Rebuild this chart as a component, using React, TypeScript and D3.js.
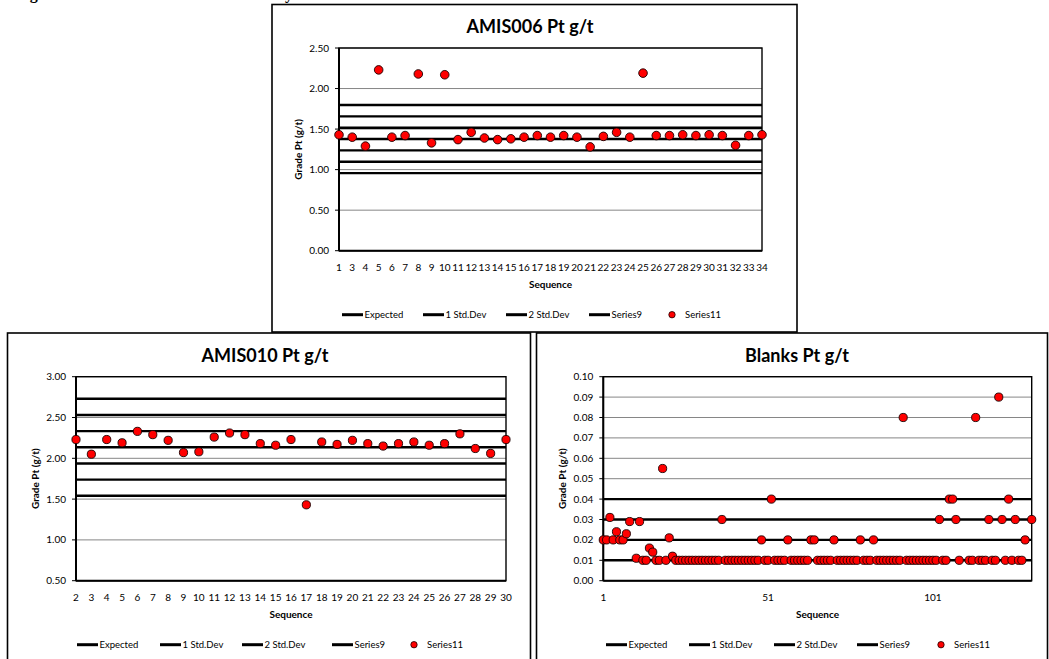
import React from "react";
import * as d3 from "d3";

const FONT = "Lato, 'Open Sans', 'DejaVu Sans', sans-serif";

// ---------- Data ----------
const amis006Categories = ["1","3","4","5","6","7","8","9","10","11","12","13","14","15","16","17","18","19","20","21","22","23","24","25","26","27","28","29","30","31","32","33","34"];
const amis006Values = [1.43,1.40,1.29,2.23,1.40,1.42,2.18,1.33,2.17,1.37,1.46,1.39,1.37,1.38,1.40,1.42,1.40,1.42,1.40,1.28,1.41,1.46,1.40,2.19,1.42,1.42,1.43,1.42,1.43,1.42,1.30,1.42,1.43];
const amis006RefLines = [1.377, 1.237, 1.517, 1.097, 1.657, 0.957, 1.797];
const amis006YTicks = [0, 0.5, 1.0, 1.5, 2.0, 2.5];

const amis010Categories = ["2","3","4","5","6","7","8","9","10","11","12","13","14","15","16","17","18","19","20","21","22","23","24","25","26","27","28","29","30"];
const amis010Values = [2.23,2.05,2.23,2.19,2.33,2.29,2.22,2.07,2.08,2.26,2.31,2.29,2.18,2.16,2.23,1.43,2.20,2.17,2.22,2.18,2.15,2.18,2.20,2.16,2.18,2.30,2.12,2.06,2.23];
const amis010RefLines = [2.135, 1.937, 2.333, 1.739, 2.531, 1.541, 2.729];
const amis010YTicks = [0.5, 1.0, 1.5, 2.0, 2.5, 3.0];

const blanksValues: (number | null)[] = [
  0.02,0.02,0.031,0.02,0.024,0.02,0.02,0.023,0.029,null,
  0.011,0.029,0.01,0.01,0.016,0.014,0.01,0.01,0.055,0.01,
  0.021,0.012,0.01,0.01,0.01,0.01,0.01,0.01,0.01,0.01,
  0.01,0.01,0.01,0.01,0.01,0.01,0.03,0.01,0.01,0.01,
  0.01,0.01,0.01,0.01,0.01,0.01,0.01,0.01,0.02,0.01,
  0.01,0.04,0.01,0.01,0.01,0.01,0.02,0.01,0.01,0.01,
  0.01,0.01,0.01,0.02,0.02,0.01,0.01,0.01,0.01,0.01,
  0.02,0.01,0.01,0.01,0.01,0.01,0.01,0.01,0.02,0.01,
  0.01,0.01,0.02,0.01,0.01,0.01,0.01,0.01,0.01,0.01,
  0.01,0.08,0.01,0.01,0.01,0.01,0.01,0.01,0.01,0.01,
  0.01,0.01,0.03,0.01,0.01,0.04,0.04,0.03,0.01,null,
  null,0.01,0.01,0.08,0.01,0.01,0.01,0.03,0.01,0.01,
  0.09,0.03,0.01,0.04,0.01,0.03,0.01,0.01,0.02,null,
  0.03
];
const blanksRefLines = [0.01, 0.02, 0.03, 0.04];
const blanksYTicks = [0, 0.01, 0.02, 0.03, 0.04, 0.05, 0.06, 0.07, 0.08, 0.09, 0.10];
const blanksXTicks = [1, 51, 101];

const legendLabels = ["Expected", "1 Std.Dev", "2 Std.Dev", "Series9", "Series11"];

type Rect = { x0: number; y0: number; x1: number; y1: number };

type PanelProps = {
  box: Rect;
  plot: Rect;
  title: string;
  titleX: number;
  yDomain: [number, number];
  yTicks: number[];
  xPos: (i: number) => number;
  xTicks: { label: string; x: number }[];
  values: (number | null)[];
  refLines: number[];
  legendX: number[];
  legendLineLen: number;
  r: number;
};

function Panel(p: PanelProps) {
  const y = d3.scaleLinear().domain(p.yDomain).range([p.plot.y1, p.plot.y0]);
  const { plot, box } = p;
  const legendY = plot.y1 + 64;
  return (
    <g>
      <rect x={box.x0} y={box.y0} width={box.x1 - box.x0} height={box.y1 - box.y0} fill="#fff" stroke="#000" strokeWidth={1.6} />
      <text x={p.titleX} y={plot.y0 - 15} textAnchor="middle" fontFamily={FONT} fontWeight="bold" fontSize={18} fill="#000">{p.title}</text>
      {p.yTicks.map((t, i) => (
        <line key={"g" + i} x1={plot.x0} x2={plot.x1} y1={y(t)} y2={y(t)} stroke="#868686" strokeWidth={1} />
      ))}
      <rect x={plot.x0} y={plot.y0} width={plot.x1 - plot.x0} height={plot.y1 - plot.y0} fill="none" stroke="#000" strokeWidth={1.4} />
      {p.refLines.map((v, i) => (
        <line key={"r" + i} x1={plot.x0} x2={plot.x1} y1={y(v)} y2={y(v)} stroke="#000" strokeWidth={2.4} />
      ))}
      <line x1={plot.x0} x2={plot.x0} y1={plot.y0} y2={plot.y1} stroke="#000" strokeWidth={2} />
      <line x1={plot.x0} x2={plot.x1} y1={plot.y1} y2={plot.y1} stroke="#000" strokeWidth={2} />
      {p.yTicks.map((t, i) => (
        <g key={"t" + i}>
          <line x1={plot.x0 - 4} x2={plot.x0} y1={y(t)} y2={y(t)} stroke="#000" strokeWidth={1} />
          <text x={plot.x0 - 10} y={y(t)} dy="0.35em" textAnchor="end" fontFamily={FONT} fontSize={10} fill="#000">{t.toFixed(2)}</text>
        </g>
      ))}
      {p.xTicks.map((t, i) => (
        <text key={"x" + i} x={t.x} y={plot.y1 + 20.5} textAnchor="middle" fontFamily={FONT} fontSize={10} fill="#000">{t.label}</text>
      ))}
      <text x={(plot.x0 + plot.x1) / 2} y={plot.y1 + 37} textAnchor="middle" fontFamily={FONT} fontWeight="bold" fontSize={10} fill="#000">Sequence</text>
      <text transform={`translate(${plot.x0 - 41},${(plot.y0 + plot.y1) / 2}) rotate(-90)`} textAnchor="middle" dominantBaseline="central" fontFamily={FONT} fontWeight="bold" fontSize={10} fill="#000">Grade Pt (g/t)</text>
      {p.values.map((v, i) =>
        v == null ? null : (
          <circle key={"p" + i} cx={p.xPos(i)} cy={y(v)} r={p.r} fill="#ff0000" stroke="#1a0000" strokeWidth={0.9} />
        )
      )}
      {legendLabels.map((lab, i) => {
        const lx = p.legendX[i];
        if (i < 4) {
          return (
            <g key={"l" + i}>
              <line x1={lx} x2={lx + p.legendLineLen} y1={legendY} y2={legendY} stroke="#000" strokeWidth={3} />
              <text x={lx + p.legendLineLen + 1.5} y={legendY} dy="0.35em" fontFamily={FONT} fontSize={9.5} fill="#000">{lab}</text>
            </g>
          );
        }
        return (
          <g key={"l" + i}>
            <circle cx={lx} cy={legendY} r={3.2} fill="#ff0000" stroke="#1a0000" strokeWidth={0.8} />
            <text x={lx + 13} y={legendY} dy="0.35em" fontFamily={FONT} fontSize={9.5} fill="#000">{lab}</text>
          </g>
        );
      })}
    </g>
  );
}

export default function App() {
  const topPlot = { x0: 339, y0: 48, x1: 762, y1: 250.7 };
  const xTop = d3.scalePoint<string>().domain(amis006Categories).range([topPlot.x0, topPlot.x1]).padding(0);
  const blPlot = { x0: 76, y0: 376.7, x1: 506, y1: 580.7 };
  const xBl = d3.scalePoint<string>().domain(amis010Categories).range([blPlot.x0, blPlot.x1]).padding(0);
  const brPlot = { x0: 603.3, y0: 376.7, x1: 1031.7, y1: 580.7 };
  const xBr = d3.scaleLinear().domain([1, blanksValues.length]).range([brPlot.x0, brPlot.x1]);

  return (
    <svg width={1049} height={659} style={{ position: "absolute", left: 0, top: 0, background: "#fff" }}>
      <text x={17} y={-0.8} fontFamily="'Liberation Serif', 'DejaVu Serif', serif" fontWeight="bold" fontSize={16} fill="#000" textLength={276} lengthAdjust="spacing">Figure 11-5: Pt Control Charts – Laboratory</text>
      <Panel
        box={{ x0: 272, y0: 4.5, x1: 797, y1: 332 }}
        plot={topPlot}
        title="AMIS006 Pt g/t"
        titleX={530}
        yDomain={[0, 2.5]}
        yTicks={amis006YTicks}
        xPos={(i) => xTop(amis006Categories[i]) as number}
        xTicks={amis006Categories.map((c) => ({ label: c, x: xTop(c) as number }))}
        values={amis006Values}
        refLines={amis006RefLines}
        legendX={[342, 423, 506, 589, 672]}
        legendLineLen={21}
        r={4.3}
      />
      <Panel
        box={{ x0: 7.5, y0: 333, x1: 530.5, y1: 664 }}
        plot={blPlot}
        title="AMIS010 Pt g/t"
        titleX={265}
        yDomain={[0.5, 3.0]}
        yTicks={amis010YTicks}
        xPos={(i) => xBl(amis010Categories[i]) as number}
        xTicks={amis010Categories.map((c) => ({ label: c, x: xBl(c) as number }))}
        values={amis010Values}
        refLines={amis010RefLines}
        legendX={[77, 160, 242, 332, 414]}
        legendLineLen={21}
        r={4.1}
      />
      <Panel
        box={{ x0: 536.5, y0: 333, x1: 1047.5, y1: 664 }}
        plot={brPlot}
        title="Blanks Pt g/t"
        titleX={797}
        yDomain={[0, 0.1]}
        yTicks={blanksYTicks}
        xPos={(i) => xBr(i + 1)}
        xTicks={blanksXTicks.map((t) => ({ label: String(t), x: xBr(t) }))}
        values={blanksValues}
        refLines={blanksRefLines}
        legendX={[606, 689, 774, 857, 941]}
        legendLineLen={21}
        r={4.1}
      />
    </svg>
  );
}
